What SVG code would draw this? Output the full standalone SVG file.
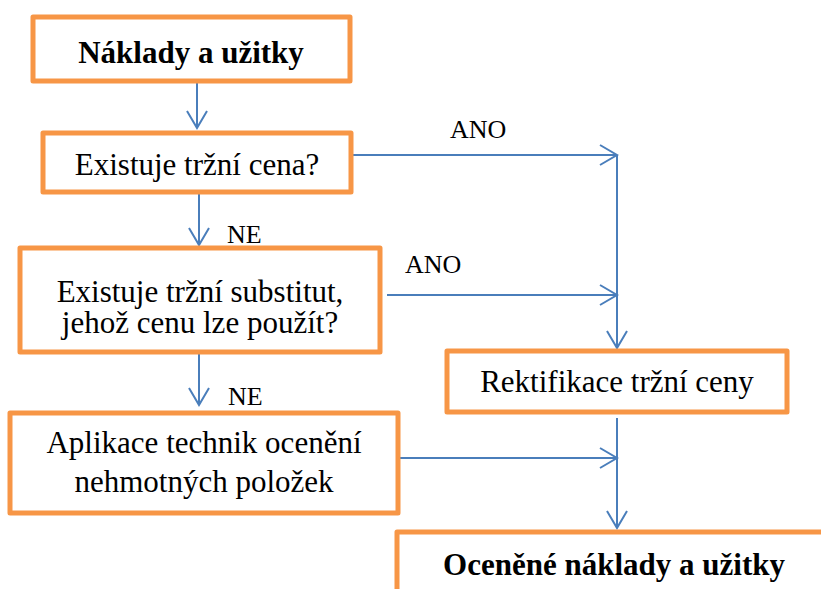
<svg xmlns="http://www.w3.org/2000/svg" width="821" height="589" viewBox="0 0 821 589">
<style>
.box{fill:#fff;stroke:#F79646;stroke-width:5;stroke-linejoin:round}
.t{font-family:'Liberation Serif','DejaVu Serif',serif;font-size:31px;fill:#000;text-anchor:middle}
.b{font-weight:bold}
.lbl{font-family:'Liberation Serif','DejaVu Serif',serif;font-size:26px;fill:#000}
.c{fill:none;stroke:#4A7EBB;stroke-width:2}
</style>
<defs>
<marker id="ah" viewBox="-18 -11 20 22" markerWidth="20" markerHeight="22" refX="0" refY="0" orient="auto" markerUnits="userSpaceOnUse">
<path d="M-17,-10 L0,0 L-17,10" fill="none" stroke="#4A7EBB" stroke-width="2"/>
</marker>
</defs>
<g id="connectors">
<path class="c" d="M197,82 V128" marker-end="url(#ah)"/>
<path class="c" d="M199,193 V245" marker-end="url(#ah)"/>
<path class="c" d="M199,353 V405" marker-end="url(#ah)"/>
<path class="c" d="M353,155 H617" marker-end="url(#ah)"/>
<path class="c" d="M387,295 H617" marker-end="url(#ah)"/>
<path class="c" d="M617,155 V348" marker-end="url(#ah)"/>
<path class="c" d="M399,458 H617" marker-end="url(#ah)"/>
<path class="c" d="M617,418 V528" marker-end="url(#ah)"/>
<text class="lbl" font-family="Liberation Serif" x="450" y="138">ANO</text>
<text class="lbl" font-family="Liberation Serif" x="405" y="273">ANO</text>
<text class="lbl" font-family="Liberation Serif" x="227" y="243">NE</text>
<text class="lbl" font-family="Liberation Serif" x="228" y="405">NE</text>
</g>
<g id="n1">
<rect class="box" x="33" y="17" width="317" height="64"/>
<text class="t b" font-family="Liberation Serif" x="191" y="63">Náklady a užitky</text>
</g>
<g id="n2">
<rect class="box" x="43" y="133" width="308" height="59"/>
<text class="t" font-family="Liberation Serif" x="197" y="175">Existuje tržní cena?</text>
</g>
<g id="n3">
<rect class="box" x="20" y="248" width="360" height="104"/>
<text class="t" font-family="Liberation Serif" x="200" y="302">Existuje tržní substitut,</text>
<text class="t" font-family="Liberation Serif" x="200" y="333">jehož cenu lze použít?</text>
</g>
<g id="n4">
<rect class="box" x="10" y="413" width="388" height="100"/>
<text class="t" font-family="Liberation Serif" x="204" y="453">Aplikace technik ocenění</text>
<text class="t" font-family="Liberation Serif" x="204" y="492">nehmotných položek</text>
</g>
<g id="n5">
<rect class="box" x="447" y="351" width="340" height="61"/>
<text class="t" font-family="Liberation Serif" x="617" y="392">Rektifikace tržní ceny</text>
</g>
<g id="n6">
<rect class="box" x="397" y="532" width="440" height="80"/>
<text class="t b" font-family="Liberation Serif" x="614" y="575">Oceněné náklady a užitky</text>
</g>
</svg>
